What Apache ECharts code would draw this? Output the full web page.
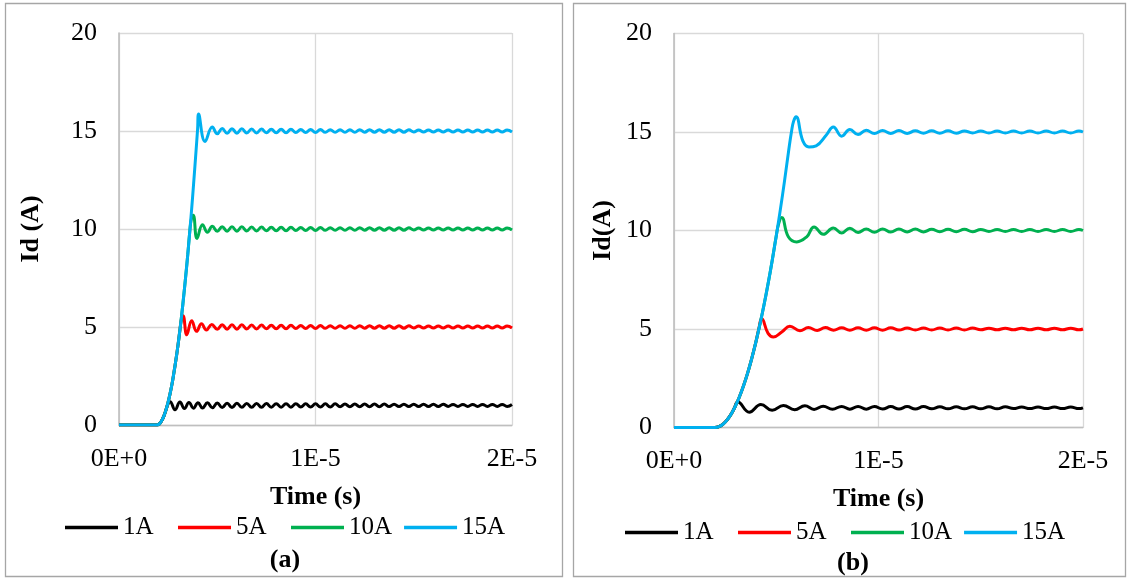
<!DOCTYPE html>
<html>
<head>
<meta charset="utf-8">
<script src="https://cdn.jsdelivr.net/npm/echarts@6/dist/echarts.min.js"></script>
<style>
  html, body { margin: 0; padding: 0; background: #ffffff; }
  #chart { width: 1129px; height: 579px; }
</style>
</head>
<body>
<div id="chart"></div>
<script>
// Drain current Id (A) versus time; times are in microseconds.
const seriesNames = ['1A', '5A', '10A', '15A'];
const seriesColors = ['#000000', '#ff0000', '#00b050', '#00b0f0'];
const xTickLabels = ['0E+0', '1E-5', '2E-5'];   // ticks at 0, 10 and 20 µs
const yTickStep = 5;
const panelLabels = ['(a)', '(b)'];
const yAxisTitles = ['Id (A)', 'Id(A)'];
const xAxisTitle = 'Time (s)';

// ---------- panel (a) ----------
// turn-on transient, one list per current level
const headA1 = [[0,0],[1.9,0],[2.0,0.02],[2.1,0.11],[2.2,0.27],[2.3,0.5],[2.4,0.8],[2.5,1.08],[2.6,1.19],
  [2.85,0.78],[3.1,1.17],[3.33,0.84],[3.56,1.15],[3.79,0.86],[4.02,1.14],[4.25,0.87],[4.5,1.13],[4.75,0.88]];
const headA5 = [[0,0],[1.9,0],[2.0,0.02],[2.1,0.11],[2.2,0.27],[2.3,0.5],[2.4,0.8],[2.5,1.17],[2.6,1.6],
  [2.7,2.1],[2.8,2.7],[2.9,3.35],[3.0,4.05],[3.1,4.85],[3.18,5.4],[3.26,5.58],[3.45,4.6],[3.7,5.32],
  [3.95,4.78],[4.2,5.16],[4.45,4.85],[4.72,5.13]];
const headA10 = [[0,0],[1.9,0],[2.0,0.02],[2.1,0.11],[2.2,0.27],[2.3,0.5],[2.4,0.8],[2.5,1.17],[2.6,1.6],
  [2.7,2.1],[2.8,2.7],[2.9,3.35],[3.0,4.05],[3.1,4.85],[3.2,5.7],[3.3,6.65],[3.4,7.65],[3.5,8.7],
  [3.6,9.85],[3.68,10.5],[3.78,10.7],[3.97,9.52],[4.25,10.22],[4.5,9.83],[4.75,10.14]];
const headA15 = [[0,0],[1.9,0],[2.0,0.02],[2.1,0.11],[2.2,0.27],[2.3,0.5],[2.4,0.8],[2.5,1.17],[2.6,1.6],
  [2.7,2.1],[2.8,2.7],[2.9,3.35],[3.0,4.05],[3.1,4.85],[3.2,5.7],[3.3,6.65],[3.4,7.65],[3.5,8.7],
  [3.6,9.85],[3.7,11.05],[3.8,12.35],[3.9,13.7],[4.0,15.1],[4.05,15.87],[4.38,14.46],[4.75,15.2]];

// settled ripple, sampled at its crests and troughs
const tailTimesA = [5.0,5.25,5.5,5.75,6.0,6.25,6.5,6.75,7.0,7.25,7.5,7.75,8.0,8.25,8.5,8.75,9.0,9.25,9.5,9.75,
  10.0,10.25,10.5,10.75,11.0,11.25,11.5,11.75,12.0,12.25,12.5,12.75,13.0,13.25,13.5,13.75,14.0,14.25,14.5,14.75,
  15.0,15.25,15.5,15.75,16.0,16.25,16.5,16.75,17.0,17.25,17.5,17.75,18.0,18.25,18.5,18.75,19.0,19.25,19.5,19.75,20.0];
const tailA1 = [1.12,0.89,1.11,0.89,1.11,0.9,1.1,0.9,1.1,0.9,1.1,0.91,1.09,0.91,1.09,0.91,1.09,0.92,1.08,0.92,
  1.08,0.92,1.08,0.92,1.08,0.93,1.07,0.93,1.07,0.93,1.07,0.93,1.07,0.93,1.07,0.94,1.06,0.94,1.06,0.94,
  1.06,0.94,1.06,0.94,1.06,0.94,1.06,0.95,1.05,0.95,1.05,0.95,1.05,0.95,1.05,0.95,1.05,0.95,1.05,0.95,1.05];
const tailA5 = [4.88,5.12,4.89,5.11,4.89,5.11,4.9,5.1,4.9,5.1,4.91,5.09,4.91,5.09,4.91,5.09,4.92,5.08,4.92,5.08,
  4.92,5.08,4.93,5.07,4.93,5.07,4.93,5.07,4.93,5.07,4.94,5.06,4.94,5.06,4.94,5.06,4.94,5.06,4.94,5.06,
  4.95,5.05,4.95,5.05,4.95,5.05,4.95,5.05,4.95,5.05,4.95,5.05,4.95,5.05,4.95,5.05,4.95,5.05,4.95,5.05,4.95];
const tailA10 = [9.88,10.12,9.89,10.11,9.89,10.11,9.9,10.1,9.9,10.1,9.91,10.09,9.91,10.09,9.91,10.09,9.92,10.08,9.92,10.08,
  9.92,10.08,9.93,10.07,9.93,10.07,9.93,10.07,9.93,10.07,9.94,10.06,9.94,10.06,9.94,10.06,9.94,10.06,9.94,10.06,
  9.95,10.05,9.95,10.05,9.95,10.05,9.95,10.05,9.95,10.05,9.95,10.05,9.95,10.05,9.95,10.05,9.95,10.05,9.95,10.05,9.95];
const tailA15 = [14.86,15.13,14.88,15.12,14.89,15.11,14.9,15.1,14.9,15.1,14.91,15.09,14.91,15.09,14.91,15.09,14.92,15.08,14.92,15.08,
  14.92,15.08,14.93,15.07,14.93,15.07,14.93,15.07,14.93,15.07,14.94,15.06,14.94,15.06,14.94,15.06,14.94,15.06,14.94,15.06,
  14.95,15.05,14.95,15.05,14.95,15.05,14.95,15.05,14.95,15.05,14.95,15.05,14.95,15.05,14.95,15.05,14.95,15.05,14.95,15.05,14.95];

// ---------- panel (b) ----------
const headB1 = [[0,0],[2.0,0],[2.2,0.04],[2.4,0.17],[2.6,0.39],[2.8,0.69],[2.95,0.98],[3.12,1.3],
  [3.68,0.78],[4.25,1.17],[4.8,0.87],[5.35,1.12],[5.9,0.9],[6.4,1.1],[6.85,0.92],[7.3,1.08],[7.75,0.93]];
const headB5 = [[0,0],[2.0,0],[2.2,0.04],[2.4,0.17],[2.6,0.39],[2.8,0.69],[3.0,1.08],[3.2,1.56],[3.4,2.12],
  [3.6,2.76],[3.8,3.5],[4.0,4.32],[4.15,5.02],[4.29,5.53],[4.6,4.78],[4.86,4.6],[5.27,4.85],[5.67,5.14],
  [6.16,4.91],[6.57,5.07],[7.0,4.93],[7.4,5.07],[7.8,4.94]];
const headB10 = [[0,0],[2.0,0],[2.2,0.04],[2.4,0.17],[2.6,0.39],[2.8,0.69],[3.0,1.08],[3.2,1.56],[3.4,2.12],
  [3.6,2.76],[3.8,3.5],[4.0,4.32],[4.2,5.23],[4.4,6.22],[4.6,7.3],[4.8,8.47],[5.0,9.72],[5.12,10.35],
  [5.27,10.66],[5.59,9.68],[6.0,9.42],[6.49,9.68],[6.85,10.18],[7.3,9.81],[7.79,10.13]];
const headB15 = [[0,0],[2.0,0],[2.2,0.04],[2.4,0.17],[2.6,0.39],[2.8,0.69],[3.0,1.08],[3.2,1.56],[3.4,2.12],
  [3.6,2.76],[3.8,3.5],[4.0,4.32],[4.2,5.23],[4.4,6.22],[4.6,7.3],[4.8,8.47],[5.0,9.72],[5.2,11.06],
  [5.4,12.48],[5.6,14.0],[5.75,15.05],[5.85,15.55],[5.97,15.77],[6.3,14.55],[6.6,14.24],[6.95,14.3],
  [7.45,14.85],[7.79,15.26]];

const tailTimesB = [8.2,8.6,9.0,9.4,9.8,10.2,10.6,11.0,11.4,11.8,12.2,12.6,13.0,13.4,13.8,14.2,14.6,15.0,15.4,15.8,
  16.2,16.6,17.0,17.4,17.8,18.2,18.6,19.0,19.4,19.8,20.0];
const tailB1 = [1.07,0.93,1.07,0.93,1.07,0.94,1.06,0.94,1.06,0.94,1.06,0.95,1.05,0.95,1.05,0.95,1.05,0.95,1.05,0.95,
  1.05,0.96,1.04,0.96,1.04,0.96,1.04,0.96,1.04,0.96,1.0];
const tailB5 = [5.06,4.94,5.06,4.94,5.06,4.94,5.06,4.95,5.05,4.95,5.05,4.95,5.05,4.95,5.05,4.95,5.05,4.96,5.04,4.96,
  5.04,4.96,5.04,4.96,5.04,4.96,5.04,4.96,5.04,4.96,5.0];
const tailB10 = [9.87,10.12,9.9,10.08,9.91,10.08,9.92,10.07,9.93,10.07,9.93,10.06,9.94,10.06,9.94,10.06,9.94,10.05,9.95,10.05,
  9.95,10.05,9.95,10.05,9.95,10.05,9.95,10.05,9.95,10.05,10.0];
const tailB15 = [14.79,15.13,14.87,15.09,14.92,15.07,14.93,15.07,14.93,15.06,14.94,15.06,14.94,15.06,14.94,15.05,14.95,15.05,14.95,15.05,
  14.95,15.05,14.95,15.05,14.95,15.05,14.95,15.05,14.95,15.05,15.0];

const headsA = [headA1, headA5, headA10, headA15];
const tailsA = [tailA1, tailA5, tailA10, tailA15];
const headsB = [headB1, headB5, headB10, headB15];
const tailsB = [tailB1, tailB5, tailB10, tailB15];

const FONT = "'Liberation Serif', 'Times New Roman', serif";
const GRID_COLOR = '#d9d9d9';
const AXIS_COLOR = '#bfbfbf';

function joinTrace(head, tailTimes, tail) {
  return head.concat(tailTimes.map((t, i) => [t, tail[i]]));
}

function makeSeries(heads, tails, tailTimes, axisIndex) {
  return seriesNames.map((name, k) => ({
    name: name,
    type: 'line',
    xAxisIndex: axisIndex,
    yAxisIndex: axisIndex,
    data: joinTrace(heads[k], tailTimes, tails[k]),
    symbol: 'none',
    smooth: 0.45,
    color: seriesColors[k],
    lineStyle: { width: 3, color: seriesColors[k] },
    z: 2 + k
  }));
}

function xAxisDef(gridIndex) {
  return {
    gridIndex: gridIndex,
    type: 'value',
    min: 0, max: 20, interval: 10,
    name: xAxisTitle,
    nameLocation: 'middle',
    nameGap: 59,
    nameTextStyle: { fontFamily: FONT, fontSize: 26, fontWeight: 'bold', color: '#000' },
    axisLine: { show: true, lineStyle: { color: AXIS_COLOR, width: 1.3 } },
    axisTick: { show: false },
    axisLabel: {
      fontFamily: FONT, fontSize: 26, color: '#000', margin: 21,
      formatter: v => xTickLabels[Math.round(v / 10)]
    },
    splitLine: { show: true, lineStyle: { color: GRID_COLOR, width: 1.3 } }
  };
}

function yAxisDef(gridIndex, title, gap) {
  return {
    gridIndex: gridIndex,
    type: 'value',
    min: 0, max: 20, interval: yTickStep,
    name: title,
    nameLocation: 'middle',
    nameRotate: 90,
    nameGap: gap,
    nameTextStyle: { fontFamily: FONT, fontSize: 26, fontWeight: 'bold', color: '#000' },
    axisLine: { show: true, lineStyle: { color: AXIS_COLOR, width: 1.6 } },
    axisTick: { show: false },
    axisLabel: { fontFamily: FONT, fontSize: 26, color: '#000', margin: 22 },
    splitLine: { show: true, lineStyle: { color: GRID_COLOR, width: 1.3 } }
  };
}

function legendDef(left, top) {
  return {
    data: seriesNames,
    left: left, top: top,
    padding: 0,
    orient: 'horizontal',
    icon: 'rect',
    itemWidth: 53, itemHeight: 3.5, itemGap: 12,
    selectedMode: false,
    textStyle: { fontFamily: FONT, fontSize: 25, color: '#000', width: 43, lineHeight: 25 }
  };
}

const chart = echarts.init(document.getElementById('chart'), null, { renderer: 'canvas' });
chart.setOption({
  animation: false,
  backgroundColor: '#ffffff',
  grid: [
    { left: 119, top: 33, width: 393, height: 392 },
    { left: 674, top: 33.5, width: 409, height: 394 }
  ],
  xAxis: [xAxisDef(0), xAxisDef(1)],
  yAxis: [yAxisDef(0, yAxisTitles[0], 75), yAxisDef(1, yAxisTitles[1], 58)],
  legend: [legendDef(65, 515), legendDef(625, 520)],
  graphic: [
    { type: 'rect', shape: { x: 5.5, y: 3.5, width: 557, height: 573 }, style: { fill: 'none', stroke: '#a6a6a6', lineWidth: 1.3 }, silent: true },
    { type: 'rect', shape: { x: 573.5, y: 3.5, width: 552, height: 573 }, style: { fill: 'none', stroke: '#a6a6a6', lineWidth: 1.3 }, silent: true },
    { type: 'text', x: 285, y: 560, style: { text: panelLabels[0], font: "bold 26px " + FONT, fill: '#000', textAlign: 'center', textVerticalAlign: 'middle' }, silent: true },
    { type: 'text', x: 853, y: 563, style: { text: panelLabels[1], font: "bold 26px " + FONT, fill: '#000', textAlign: 'center', textVerticalAlign: 'middle' }, silent: true }
  ],
  series: makeSeries(headsA, tailsA, tailTimesA, 0).concat(makeSeries(headsB, tailsB, tailTimesB, 1))
});
</script>
</body>
</html>
